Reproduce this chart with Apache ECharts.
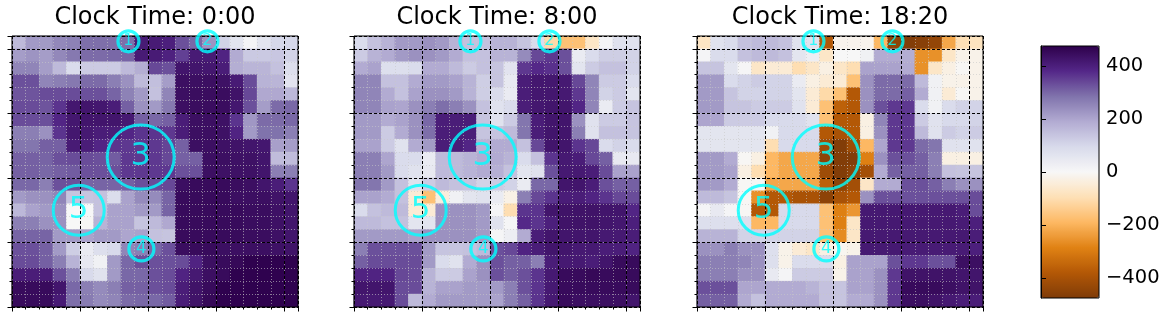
<!DOCTYPE html>
<html><head><meta charset="utf-8">
<script src="https://cdn.jsdelivr.net/npm/echarts@6/dist/echarts.min.js"></script>
<style>html,body{margin:0;padding:0;background:#fff}#c{width:1167px;height:318px}</style>
</head><body><div id="c"></div>
<script>
// ---- data ----
const titles = ['Clock Time: 0:00', 'Clock Time: 8:00', 'Clock Time: 18:20'];
const colorbarTicks = [-400, -200, 0, 200, 400];
const vMin = -476, vMax = 476;
const circleLabels = ['1', '2', '3', '4', '5'];
const circleX = [8.55, 14.35, 9.45, 9.5, 4.9];
const circleY = [20.59, 20.59, 11.62, 4.5, 7.5];

// rows listed top -> bottom, 21 columns left -> right
const P1 = [
[160,220,220,250,260,290,290,290,290,410,410,400,330,300,230,110,60,10,60,100,100],
[215,230,215,250,275,295,295,300,305,410,410,395,350,410,410,390,190,130,130,135,110],
[255,255,215,160,90,125,125,125,160,185,340,330,425,425,420,405,185,170,170,145,80],
[330,330,255,265,275,295,295,265,235,160,150,215,440,440,440,435,410,335,175,170,65],
[325,325,335,335,335,330,330,305,260,220,145,255,440,445,445,445,430,340,195,195,165],
[335,335,325,365,420,425,420,405,310,235,220,275,440,445,445,445,420,330,215,295,300],
[335,335,330,385,420,425,425,425,415,310,300,310,405,440,440,435,365,225,295,295,300],
[265,265,235,365,420,415,405,405,385,365,365,360,405,440,440,435,390,220,285,285,265],
[280,280,310,310,410,405,385,365,360,360,360,345,310,440,440,435,430,425,420,210,215],
[310,310,305,330,335,335,330,315,360,360,360,340,310,310,440,440,435,435,425,155,155],
[310,310,300,310,315,330,330,330,360,360,360,360,330,330,440,435,435,435,425,265,265],
[300,300,265,330,330,305,305,305,310,330,335,340,440,450,450,450,445,440,425,405,365],
[220,235,235,255,140,140,145,85,205,245,245,305,450,450,450,450,440,440,440,430,425],
[165,205,220,235,0,0,145,205,205,220,220,305,450,450,450,450,450,445,445,435,425],
[265,265,235,235,0,-5,175,205,205,140,160,195,450,450,450,450,450,445,445,435,425],
[305,305,305,220,220,205,220,220,200,205,145,140,450,450,450,450,450,445,445,435,425],
[330,330,310,220,120,40,80,95,255,265,300,330,445,450,450,440,440,440,440,435,430],
[335,335,310,265,175,50,20,220,300,330,330,330,335,390,440,450,455,470,470,470,470],
[405,405,405,330,265,95,70,220,300,300,330,335,390,415,440,450,470,470,470,470,470],
[450,450,450,425,300,265,245,265,310,310,330,335,405,430,450,470,470,470,470,470,470],
[450,450,450,410,290,270,245,255,295,300,300,315,405,430,455,470,470,470,470,470,470]
];
const P2 = [
[90,145,175,220,220,235,220,175,145,145,175,175,140,90,-110,-170,-170,-70,10,70,70],
[125,175,190,220,235,235,220,190,145,145,175,175,245,340,360,330,40,90,120,120,110],
[190,205,80,80,90,190,190,160,125,145,140,65,360,380,370,330,60,125,145,145,110],
[255,255,145,145,190,220,220,205,175,120,140,45,405,420,420,415,340,255,125,125,90],
[255,255,190,145,205,235,235,220,175,120,90,40,405,420,420,415,360,255,110,125,60],
[255,255,205,200,235,265,290,265,235,145,70,90,405,420,425,425,385,255,40,125,140],
[220,220,190,205,235,300,405,405,405,140,70,125,280,405,425,425,235,70,125,125,140],
[220,220,125,190,235,290,405,405,405,140,140,160,280,405,425,425,265,70,145,145,140],
[205,205,125,70,190,220,405,405,385,175,190,190,145,340,425,425,365,340,90,110,90],
[265,265,200,90,90,40,160,160,175,190,190,175,90,145,365,415,405,340,310,45,45],
[265,265,220,90,70,45,160,160,175,190,180,145,60,70,330,415,415,405,335,205,205],
[280,280,220,145,70,125,160,145,140,110,125,110,40,300,300,425,425,405,330,310,310],
[205,205,190,145,-50,-170,-40,20,60,70,40,-25,265,340,365,405,405,390,365,340,335],
[90,145,160,160,-50,-50,235,235,235,220,10,-100,365,365,425,430,430,430,425,425,385],
[160,160,145,145,60,60,235,235,235,220,70,5,380,365,400,430,430,430,425,420,400],
[220,220,220,220,205,235,235,235,235,220,5,30,190,405,425,425,425,425,415,415,405],
[265,330,330,330,330,220,140,140,145,160,330,340,390,405,425,425,415,415,405,405,390],
[310,335,335,335,335,220,90,70,190,235,330,310,310,265,405,415,415,405,425,450,450],
[390,390,390,340,335,175,125,125,205,235,330,310,330,365,415,450,450,455,450,455,450],
[425,425,425,335,335,175,205,205,220,220,220,265,330,365,415,450,450,450,450,450,450],
[415,415,415,335,160,190,220,220,220,220,205,265,310,365,415,450,440,440,440,440,425]
];
const P3 = [
[-75,70,90,145,160,160,145,70,70,-380,-15,-15,-15,-190,-450,-470,-460,-440,-220,-95,-80],
[10,90,90,145,160,160,145,60,30,-70,0,0,20,190,190,185,-260,-260,-70,-20,-20],
[140,140,60,5,-70,-50,-50,-100,-70,-30,-70,-100,205,205,205,190,-260,-70,-30,-5,-20],
[220,220,90,110,125,110,110,40,-30,-50,-50,-170,235,295,295,295,160,20,-20,-20,-20],
[220,220,140,110,110,110,110,60,-50,-110,-170,-380,235,295,295,310,190,20,-50,-5,-20],
[220,220,140,140,125,125,125,70,-50,-170,-360,-380,235,330,360,360,90,20,90,110,110],
[200,200,125,125,125,95,95,95,70,-170,-380,-380,-30,255,360,360,125,70,95,95,110],
[60,60,60,60,60,20,95,95,95,-380,-400,-380,-30,235,360,360,160,70,125,110,125],
[60,60,60,60,60,-100,95,95,95,-420,-470,-420,-190,200,360,360,295,280,70,70,70],
[220,220,190,-5,-30,-190,-220,-220,-220,-450,-470,-470,-290,235,330,330,310,265,-30,-30,-30],
[220,220,205,-30,-100,-190,-220,-220,-220,-420,-470,-450,-410,190,310,310,310,265,145,140,140],
[220,220,190,-5,-5,-220,-220,-220,-220,-360,-450,-410,-70,190,190,330,330,310,265,235,235],
[160,160,140,-5,-260,-380,-380,-400,-400,-450,-400,-380,235,330,330,330,330,330,330,330,335],
[10,45,10,-5,-380,-380,95,95,95,-170,-290,-250,415,415,415,415,415,415,415,405,335],
[80,80,80,80,-190,-190,95,95,95,-170,-290,-70,415,415,415,415,415,415,415,410,400],
[175,175,175,110,110,110,110,110,110,-170,-270,-70,415,415,415,415,415,415,415,415,405],
[235,235,265,235,235,80,-20,-50,-70,-30,-10,-20,415,415,415,410,410,410,410,410,400],
[265,265,265,255,235,80,-20,90,90,90,-30,205,205,205,330,360,360,330,330,440,440],
[265,265,265,235,235,45,10,125,125,125,-20,205,205,235,360,430,430,430,430,425,425],
[330,330,330,200,200,190,190,190,175,145,140,205,205,235,360,450,450,450,440,430,430],
[310,310,310,190,145,190,190,190,190,145,140,190,190,235,360,440,440,430,415,405,405]
];

// ---- styling / layout ----
const PuOr = ['#7f3b08','#b35806','#e08214','#fdb863','#fee0b6','#f7f7f7','#d8daeb','#b2abd2','#8073ac','#542788','#2d004b'];
const FONT = 'DejaVu Sans';
const panelLefts = [12, 354, 697];
const PW = 286, PH = 271, PT = 36;
const circleStyle = [
  {w: 21, h: 21, fs: 16, bw: 3.2}, {w: 21, h: 21, fs: 16, bw: 3.2}, {w: 67, h: 64, fs: 32, bw: 3},
  {w: 25, h: 24, fs: 17, bw: 3.2}, {w: 51, h: 50, fs: 31, bw: 3}
];
const CB = {left: 1041, top: 46, width: 58, height: 252};

const panels = [P1, P2, P3];
const grids = [], xAxes = [], yAxes = [], series = [], titleOpts = [];

panels.forEach((P, i) => {
  grids.push({left: panelLefts[i], top: PT, width: PW, height: PH, show: true,
    borderColor: '#000', borderWidth: 1, backgroundColor: 'rgba(0,0,0,0)', z: 10});
  const base = {gridIndex: i, type: 'value', min: 0, max: 21, axisLabel: {show: false}, axisLine: {show: false}};
  const minorSplit = {show: true, lineStyle: {color: 'rgba(200,200,200,0.6)', type: [1, 2], width: 1}};
  const majorSplit = {show: true, lineStyle: {color: '#000', type: [3, 2], width: 1}};
  xAxes.push(Object.assign({}, base, {position: 'bottom', interval: 1, z: 5,
    axisTick: {show: true, length: 2.5, lineStyle: {color: '#000', width: 1}}, splitLine: minorSplit}));
  xAxes.push(Object.assign({}, base, {position: 'bottom', interval: 5, z: 6,
    axisTick: {show: true, length: 4.5, lineStyle: {color: '#000', width: 1}}, splitLine: majorSplit}));
  yAxes.push(Object.assign({}, base, {position: 'left', interval: 1, z: 5,
    axisTick: {show: true, length: 2.5, lineStyle: {color: '#000', width: 1}}, splitLine: minorSplit}));
  yAxes.push(Object.assign({}, base, {position: 'left', interval: 5, z: 6,
    axisTick: {show: true, length: 4.5, lineStyle: {color: '#000', width: 1}}, splitLine: majorSplit}));

  const data = [];
  P.forEach((row, r) => row.forEach((v, c) => data.push([c, 20 - r, v])));
  series.push({
    type: 'custom', xAxisIndex: 2 * i, yAxisIndex: 2 * i, z: 2, silent: true,
    encode: {x: 0, y: 1},
    data: data,
    renderItem: function (params, api) {
      const x = api.value(0), y = api.value(1);
      const p0 = api.coord([x, y + 1]);
      const p1 = api.coord([x + 1, y]);
      return {type: 'rect',
        shape: {x: p0[0] - 0.3, y: p0[1] - 0.3, width: p1[0] - p0[0] + 0.6, height: p1[1] - p0[1] + 0.6},
        style: {fill: api.visual('color')}};
    }
  });
  series.push({
    type: 'scatter', xAxisIndex: 2 * i, yAxisIndex: 2 * i, z: 12, silent: true, clip: false,
    symbol: 'circle',
    itemStyle: {color: 'rgba(0,0,0,0)', borderColor: '#00ffff', borderWidth: 3},
    label: {show: true, position: 'inside', formatter: '{b}', color: '#00ffff', fontFamily: FONT},
    data: circleLabels.map((t, k) => ({
      name: t,
      value: [circleX[k], circleY[k]],
      symbolSize: [circleStyle[k].w, circleStyle[k].h],
      itemStyle: {borderWidth: circleStyle[k].bw},
      label: {fontSize: circleStyle[k].fs}
    }))
  });
  titleOpts.push({text: titles[i], left: panelLefts[i] + PW / 2, top: 6, padding: 0, textAlign: 'center',
    textStyle: {fontSize: 24, fontWeight: 'normal', fontFamily: FONT, color: '#000', lineHeight: 24}});
});

// colorbar axes
grids.push({left: CB.left, top: CB.top, width: CB.width, height: CB.height, show: true,
  borderColor: '#000', borderWidth: 1, backgroundColor: 'rgba(0,0,0,0)', z: 10});
xAxes.push({gridIndex: 3, type: 'value', show: false, min: 0, max: 1});
yAxes.push({gridIndex: 3, type: 'value', min: vMin, max: vMax, position: 'right', z: 11,
  axisLine: {show: true, lineStyle: {color: '#000', width: 1}},
  axisTick: {show: true, length: 5, customValues: colorbarTicks, lineStyle: {color: '#000', width: 1}},
  axisLabel: {show: true, customValues: colorbarTicks, margin: 7, color: '#000', fontSize: 19.5, fontFamily: FONT,
    formatter: v => (v < 0 ? '\u2212' + Math.abs(v) : String(v))},
  splitLine: {show: false}});

const chart = echarts.init(document.getElementById('c'), null, {renderer: 'canvas'});
chart.setOption({
  animation: false,
  backgroundColor: '#fff',
  title: titleOpts,
  grid: grids,
  xAxis: xAxes,
  yAxis: yAxes,
  visualMap: {
    type: 'continuous', min: vMin, max: vMax, seriesIndex: [0, 2, 4], dimension: 2,
    inRange: {color: PuOr}, left: CB.left, top: CB.top, itemWidth: CB.width, itemHeight: CB.height,
    padding: 0, calculable: false, hoverLink: false, text: null, orient: 'vertical', z: 4
  },
  series: series
});
</script>
</body></html>
